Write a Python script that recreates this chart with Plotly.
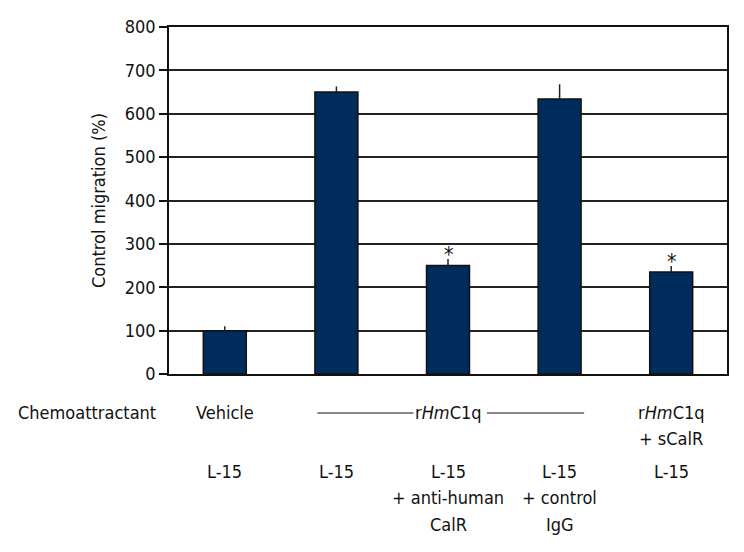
import plotly.graph_objects as go

categories = ["Vehicle L-15", "rHmC1q L-15", "rHmC1q anti-CalR", "rHmC1q control IgG", "rHmC1q + sCalR"]
values = [100, 650, 250, 634, 235]
errors = [10, 13, 15, 34, 14]
significant = [False, False, True, False, True]
y_ticks = [0, 100, 200, 300, 400, 500, 600, 700, 800]

row1 = [["Vehicle"], [], [], [], ["r<i>Hm</i>C1q", "+ sCalR"]]
row2 = [["L-15"], ["L-15"], ["L-15", "+ anti-human", "CalR"], ["L-15", "+ control", "IgG"], ["L-15"]]

FONT = "DejaVu Sans Condensed, Liberation Sans Narrow, Roboto Condensed, sans-serif"
FS = 18
LINE_H = 26.5

fig = go.Figure()
fig.add_trace(go.Bar(
    x=list(range(len(categories))), y=values,
    width=0.385,
    marker=dict(color="#002c5c", line=dict(color="#111111", width=1.5)),
    error_y=dict(type="data", array=errors, arrayminus=[0] * len(errors),
                 color="#222222", thickness=1.5, width=0),
))

annotations = []
for i, (v, e, s) in enumerate(zip(values, errors, significant)):
    if s:
        annotations.append(dict(x=i, y=v + e, xref="x", yref="y", text="*",
                                showarrow=False, yanchor="bottom", yshift=-10,
                                font=dict(family=FONT, size=21, color="#111")))

def py(pix):
    return (374 - pix) / 347.0

def txt(x, xref, pix, t, xanchor="center"):
    return dict(x=x, xref=xref, y=py(pix), yref="paper", text=t, showarrow=False,
                xanchor=xanchor, yanchor="middle",
                font=dict(family=FONT, size=FS, color="#111"))

annotations.append(txt(-0.275, "paper", 412, "Chemoattractant", xanchor="left"))
for i, lines in enumerate(row1):
    for k, t in enumerate(lines):
        annotations.append(txt(i, "x", 412 + k * LINE_H, t))
annotations.append(txt(2, "x", 412, "r<i>Hm</i>C1q"))
for i, lines in enumerate(row2):
    for k, t in enumerate(lines):
        annotations.append(txt(i, "x", 471 + k * LINE_H, t))

shapes = [
    dict(type="line", xref="x", yref="paper", x0=0.83, x1=1.69, y0=py(413), y1=py(413),
         line=dict(color="#111", width=1.2)),
    dict(type="line", xref="x", yref="paper", x0=2.35, x1=3.22, y0=py(413), y1=py(413),
         line=dict(color="#111", width=1.2)),
]

fig.update_layout(
    width=744, height=552,
    margin=dict(l=169, r=17, t=27, b=178, autoexpand=False),
    paper_bgcolor="white", plot_bgcolor="white",
    showlegend=False,
    font=dict(family=FONT, size=FS, color="#111"),
    annotations=annotations, shapes=shapes,
    xaxis=dict(range=[-0.5, 4.5], showticklabels=False, ticks="", showgrid=False, automargin=False,
               showline=True, linecolor="#111", linewidth=1.5, mirror=True, zeroline=False),
    yaxis=dict(range=[0, 800], tickvals=y_ticks, ticks="outside", ticklen=8, tickwidth=1.5,
               tickcolor="#111", showgrid=True, gridcolor="#222", gridwidth=1.5, automargin=False,
               showline=True, linecolor="#111", linewidth=1.5, mirror=True, zeroline=False,
               title=dict(text="Control migration (%)", standoff=14,
                          font=dict(family=FONT, size=FS)),
               tickfont=dict(family=FONT, size=FS)),
)

fig.write_html("out.html", config={"displayModeBar": False},
               post_script="document.body.style.margin='0';")
